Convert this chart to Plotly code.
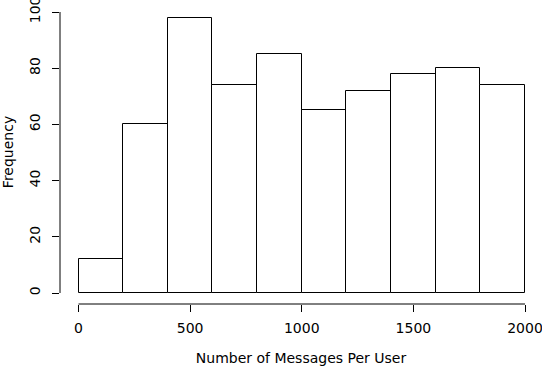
import plotly.graph_objects as go

bin_starts = [0, 200, 400, 600, 800, 1000, 1200, 1400, 1600, 1800]
bin_width = 200
frequencies = [12, 60, 98, 74, 85, 65, 72, 78, 80, 74]
x_ticks = [0, 500, 1000, 1500, 2000]
y_ticks = [0, 20, 40, 60, 80, 100]

x_centers = [s + bin_width / 2 for s in bin_starts]

font = dict(family="DejaVu Sans, Liberation Sans, Arial, sans-serif", size=14, color="black")

fig = go.Figure(go.Bar(
    x=x_centers, y=frequencies, width=[bin_width] * len(bin_starts),
    marker=dict(color="white", line=dict(color="black", width=1)),
    hoverinfo="skip",
))

fig.update_layout(
    width=542, height=366,
    margin=dict(l=60, r=0, t=0, b=62),
    paper_bgcolor="white", plot_bgcolor="white",
    font=font, showlegend=False, bargap=0,
    xaxis=dict(
        range=[-83, 2076], tickvals=x_ticks, ticktext=[str(v) for v in x_ticks],
        ticks="outside", ticklen=7, tickwidth=1, tickcolor="black",
        showline=False, showgrid=False, zeroline=False, automargin=False,
        ticklabeloverflow="allow", ticklabelstandoff=4,
        title=dict(text="Number of Messages Per User", font=font, standoff=18),
    ),
    yaxis=dict(
        range=[-3.91, 104.27], tickvals=y_ticks, ticktext=[str(v) for v in y_ticks],
        ticks="outside", ticklen=7, tickwidth=1, tickcolor="black", tickangle=-90,
        showline=False, showgrid=False, zeroline=False, automargin=False,
        ticklabeloverflow="allow", ticklabelstandoff=6,
        title=dict(text="Frequency", font=font, standoff=17),
    ),
)

# R-style detached axis lines spanning first to last tick
fig.add_shape(type="line", xref="x", yref="paper", x0=x_ticks[0], x1=x_ticks[-1], y0=0, y1=0,
              line=dict(color="black", width=1))
fig.add_shape(type="line", xref="paper", yref="y", x0=0, x1=0, y0=y_ticks[0], y1=y_ticks[-1],
              line=dict(color="black", width=1))

fig.write_html("out.html", config={"displayModeBar": False},
               post_script="document.body.style.margin='0';")
